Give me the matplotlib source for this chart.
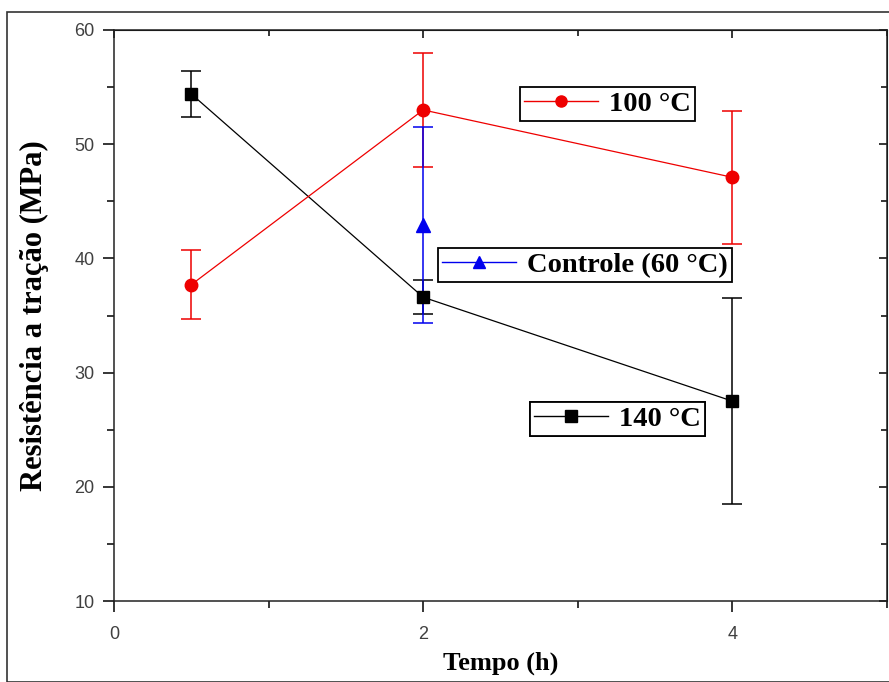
import numpy as np
import matplotlib
matplotlib.use("Agg")
import matplotlib.pyplot as plt
from matplotlib.patches import Rectangle
from matplotlib.lines import Line2D
from matplotlib.ticker import MultipleLocator

# dados
tempo_140 = [0.5, 2, 4]
res_140 = [54.4, 36.6, 27.5]
err_140 = [2.0, 1.5, 9.0]

tempo_100 = [0.5, 2, 4]
res_100 = [37.7, 53.0, 47.1]
err_100 = [3.0, 5.0, 5.8]

tempo_ctrl = [2]
res_ctrl = [42.9]
err_ctrl = [8.6]

labels = ["140 \u00b0C", "100 \u00b0C", "Controle (60 \u00b0C)"]
xticks = [0, 2, 4]
yticks = [10, 20, 30, 40, 50, 60]

fig = plt.figure(figsize=(8.89, 6.82), dpi=100)
ax = fig.add_axes([114/889, 1-601/682, (887-114)/889, (601-30)/682])

# moldura externa da figura
fig.patches.append(Rectangle((7/889, 0), 2, 1-12/682, transform=fig.transFigure,
                             fill=False, ec='#333333', lw=1.2))

serif = 'Liberation Serif'
c140, c100, cctl = 'black', '#ee0000', '#0000ee'

ax.errorbar(tempo_140, res_140, yerr=err_140, color=c140, marker='s', ms=9,
            lw=0.9, elinewidth=1.1, capsize=7, capthick=1.1)
ax.errorbar(tempo_100, res_100, yerr=err_100, color=c100, marker='o', ms=9,
            lw=0.9, elinewidth=1.1, capsize=7, capthick=1.1)
ax.errorbar(tempo_ctrl, res_ctrl, yerr=err_ctrl, color=cctl, marker='^', ms=10,
            lw=0.9, elinewidth=1.1, capsize=7, capthick=1.1)

ax.set_xlim(0, 5)
ax.set_ylim(10, 60)
ax.set_xticks(xticks)
ax.set_yticks(yticks)
ax.xaxis.set_minor_locator(MultipleLocator(1))
ax.yaxis.set_minor_locator(MultipleLocator(5))
ax.tick_params(which='major', direction='out', length=8, width=1.1,
               labelsize=13, labelcolor='#404040', pad=6)
ax.tick_params(axis='x', which='major', pad=10)
ax.tick_params(which='minor', direction='out', length=5, width=1.1)
for lab in ax.get_xticklabels() + ax.get_yticklabels():
    lab.set_family('Liberation Sans')
for s in ax.spines.values():
    s.set_linewidth(1.1)
    s.set_color('#222222')

top = ax.secondary_xaxis('top')
top.set_xticks(xticks)
top.xaxis.set_minor_locator(MultipleLocator(1))
top.tick_params(which='major', direction='in', length=6, width=1.1, labeltop=False)
top.tick_params(which='minor', direction='in', length=4, width=1.1)
right = ax.secondary_yaxis('right')
right.set_yticks(yticks)
right.yaxis.set_minor_locator(MultipleLocator(5))
right.tick_params(which='major', direction='in', length=6, width=1.1, labelright=False)
right.tick_params(which='minor', direction='in', length=4, width=1.1)

ax.set_xlabel('Tempo (h)', family=serif, fontweight='bold', fontsize=19, labelpad=6)
ax.set_ylabel('Resist\u00eancia a tra\u00e7\u00e3o (MPa)', family=serif, fontweight='bold',
              fontsize=22, labelpad=18)

def caixa(cor, marcador, label, x, y):
    handle = Line2D([], [], color=cor, marker=marcador, ms=8, lw=1.0)
    leg = ax.legend([handle], [label], loc='upper left', bbox_to_anchor=(x, y),
                    borderaxespad=0, frameon=True, fancybox=False, shadow=False,
                    prop={'family': serif, 'weight': 'bold', 'size': 20.5},
                    handlelength=2.6, handletextpad=0.4, borderpad=0.14)
    leg.get_frame().set_edgecolor('black')
    leg.get_frame().set_linewidth(1.3)
    leg.get_frame().set_alpha(1)
    ax.add_artist(leg)
    return leg

caixa(c100, 'o', labels[1], 0.525, 0.900)
caixa(cctl, '^', labels[2], 0.419, 0.618)
caixa(c140, 's', labels[0], 0.538, 0.349)

fig.savefig('out.png', dpi=100)
